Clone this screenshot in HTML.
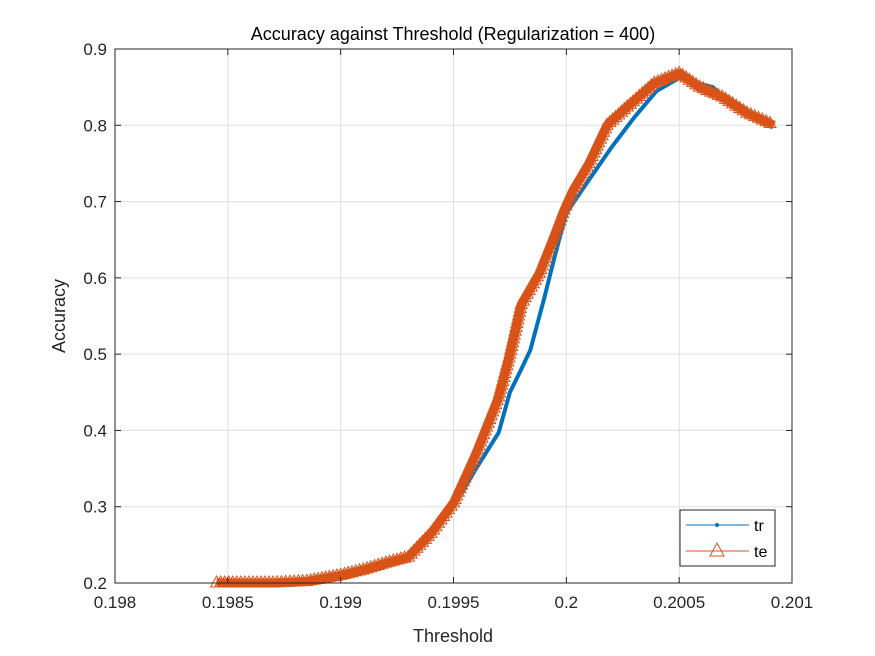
<!DOCTYPE html>
<html><head><meta charset="utf-8"><style>
body{margin:0;background:#fff;}
svg{display:block;font-family:"Liberation Sans",Arial,sans-serif;}
</style></head><body>
<svg id="chart" width="875" height="656" viewBox="0 0 875 656">
<rect width="875" height="656" fill="#fff"/>
<rect x="115" y="49" width="677" height="534" fill="#fff"/>
<g id="grid"></g>
<g id="series"></g>
<rect x="115" y="49" width="677" height="534" fill="none" stroke="#262626" stroke-width="1"/>
<g id="ticks"></g>
<text x="453" y="40" text-anchor="middle" font-size="18" fill="#000">Accuracy against Threshold (Regularization = 400)</text>
<text x="453" y="642" text-anchor="middle" font-size="18" fill="#262626">Threshold</text>
<text transform="translate(65,316) rotate(-90)" text-anchor="middle" font-size="18" fill="#262626">Accuracy</text>
<g>
<rect x="680" y="510" width="95" height="56" fill="#fff" stroke="#262626" stroke-width="1"/>
<g>
<line x1="686" y1="525" x2="749" y2="525" stroke="#0072BD" stroke-width="1"/>
<circle cx="717" cy="525" r="2" fill="#0072BD"/>
<text x="754" y="531" font-size="16" fill="#000">tr</text></g>
<g>
<line x1="686" y1="551" x2="749" y2="551" stroke="#D95319" stroke-width="1"/>
<path d="M717,543 L724,556 L710,556 Z" fill="none" stroke="#D95319" stroke-width="1"/>
<text x="754" y="557" font-size="16" fill="#000">te</text></g>
</g>
</svg>
<script>
const xTicks=[0.198,0.1985,0.199,0.1995,0.2,0.2005,0.201];
const xTickLabels=["0.198","0.1985","0.199","0.1995","0.2","0.2005","0.201"];
const yTicks=[0.2,0.3,0.4,0.5,0.6,0.7,0.8,0.9];
const yTickLabels=["0.2","0.3","0.4","0.5","0.6","0.7","0.8","0.9"];
const trX=[0.19845,0.1987,0.19885,0.1990,0.1991,0.1992,0.1993,0.1994,0.1995,0.1996,0.1997,0.19975,0.1998,0.19984,0.1999,0.19995,0.2,0.20009,0.2002,0.2003,0.2004,0.2005,0.20058,0.20065,0.2007,0.2008,0.20092];
const trY=[0.2,0.2,0.202,0.208,0.214,0.222,0.23,0.26,0.3,0.35,0.397,0.45,0.48,0.505,0.571,0.63,0.685,0.724,0.771,0.81,0.845,0.862,0.855,0.85,0.835,0.816,0.80];
const teX=[0.19845,0.1987,0.19885,0.1990,0.1991,0.1992,0.1993,0.1994,0.1995,0.1996,0.1997,0.19975,0.1998,0.19988,0.19994,0.19999,0.20003,0.2001,0.20018,0.20027,0.20039,0.2005,0.20059,0.20069,0.2008,0.20092];
const teY=[0.2,0.2,0.202,0.21,0.217,0.226,0.234,0.265,0.305,0.37,0.444,0.5,0.565,0.606,0.65,0.689,0.715,0.75,0.80,0.824,0.855,0.868,0.85,0.837,0.816,0.80];
const X0=115,X1=792,Y0=583,Y1=49;
const xs=v=>X0+(v-0.198)/0.003*(X1-X0);
const ys=v=>Y0-(v-0.2)/0.7*(Y0-Y1);
const NS="http://www.w3.org/2000/svg";
function mk(tag,attrs,parent){const e=document.createElementNS(NS,tag);for(const k in attrs)e.setAttribute(k,attrs[k]);parent.appendChild(e);return e;}
const grid=document.getElementById('grid'),ticks=document.getElementById('ticks'),series=document.getElementById('series');
xTicks.forEach((t,i)=>{const x=xs(t);
 const g=mk('line',{x1:x,y1:Y1,x2:x,y2:Y0,stroke:'#dfdfdf','stroke-width':1},grid);
 
 
 mk('line',{x1:x,y1:Y0,x2:x,y2:Y0-6,stroke:'#262626'},ticks);
 mk('line',{x1:x,y1:Y1,x2:x,y2:Y1+6,stroke:'#262626'},ticks);
 const tx=mk('text',{x:x,y:Y0+25,'text-anchor':'middle','font-size':17,fill:'#262626'},ticks);
 tx.textContent=xTickLabels[i];
 
 
});
yTicks.forEach((t,i)=>{const y=ys(t);
 const g=mk('line',{x1:X0,y1:y,x2:X1,y2:y,stroke:'#dfdfdf','stroke-width':1},grid);
 
 
 mk('line',{x1:X0,y1:y,x2:X0+6,y2:y,stroke:'#262626'},ticks);
 mk('line',{x1:X1,y1:y,x2:X1-6,y2:y,stroke:'#262626'},ticks);
 const tx=mk('text',{x:X0-8,y:y+6,'text-anchor':'end','font-size':17,fill:'#262626'},ticks);
 tx.textContent=yTickLabels[i];
 
 
});
const trLine=mk('polyline',{points:trX.map((v,i)=>xs(v)+','+ys(trY[i])).join(' '),fill:'none',stroke:'#0072BD','stroke-width':4,'stroke-linejoin':'round'},series);


const teLine=mk('polyline',{points:teX.map((v,i)=>xs(v)+','+ys(teY[i])).join(' '),fill:'none',stroke:'#D95319','stroke-width':9,'stroke-linejoin':'round'},series);


for(let i=0;i<teX.length-1;i++){
 const x0=xs(teX[i]),y0=ys(teY[i]),x1=xs(teX[i+1]),y1=ys(teY[i+1]);
 const n=Math.max(1,Math.round(Math.hypot(x1-x0,y1-y0)/4));
 for(let k=0;k<n;k++){const x=x0+(x1-x0)*k/n,y=y0+(y1-y0)*k/n;
  const m=mk('path',{d:`M${x},${y-7} L${x+6},${y+4} L${x-6},${y+4} Z`,fill:'none',stroke:'#D95319','stroke-width':1},series);
  
  
 }
}
</script>
</body></html>
